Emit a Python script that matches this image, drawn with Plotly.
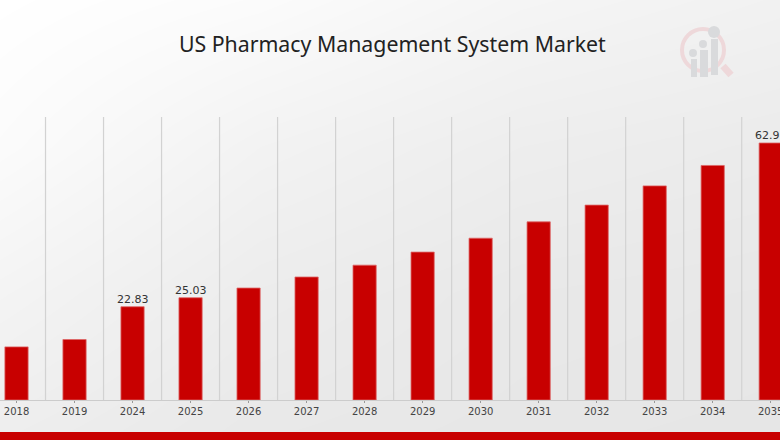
import plotly.graph_objects as go

# Market size by year (only three are labelled in the picture)
years = ['2018', '2019', '2024', '2025', '2026', '2027', '2028', '2029', '2030', '2031', '2032', '2033', '2034', '2035']
market_size = [13.0, 14.8, 22.83, 25.03, 27.4, 30.1, 33.0, 36.2, 39.6, 43.6, 47.7, 52.4, 57.4, 62.9]
shown_labels = ['', '', '22.83', '25.03', '', '', '', '', '', '', '', '', '', '62.9']

# Light grey backdrop, brighter towards the top left corner
backdrop = [
    [1.00, 0.85, 0.60, 0.45],
    [0.85, 0.50, 0.30, 0.20],
    [0.55, 0.25, 0.10, 0.05],
    [0.30, 0.10, 0.03, 0.00],
]
backdrop_scale = [[0, '#e6e6e6'], [1, '#ffffff']]

WIDTH = 780
HEIGHT = 440
Y_MAX = 69.26
RED = '#c80000'
LOGO_PINK = '#eed8da'
LOGO_GREY = '#d9dadc'


def px_x(x):
    return x / WIDTH


def px_y(y):
    return 1 - y / HEIGHT


def add_rect(fig, x0, y0, x1, y1, color):
    fig.add_shape(type='rect', xref='paper', yref='paper', x0=px_x(x0), x1=px_x(x1), y0=px_y(y0), y1=px_y(y1),
                  fillcolor=color, line_width=0)


def add_dot(fig, cx, cy, r, color):
    fig.add_shape(type='circle', xref='paper', yref='paper', x0=px_x(cx - r), x1=px_x(cx + r),
                  y0=px_y(cy - r), y1=px_y(cy + r), fillcolor=color, line_width=0)


fig = go.Figure()

# The backdrop sits on the first axes so the bars on the second pair draw over it
fig.add_trace(go.Heatmap(
    z=backdrop[::-1],
    colorscale=backdrop_scale,
    showscale=False,
    zsmooth='best',
    hoverinfo='skip',
))

fig.add_trace(go.Bar(
    x=years,
    y=market_size,
    xaxis='x2',
    yaxis='y2',
    width=0.4,
    marker=dict(color=RED, line=dict(color='#dd6666', width=0.8)),
))

fig.update_layout(
    width=WIDTH,
    height=HEIGHT,
    margin=dict(l=0, r=0, t=0, b=0),
    paper_bgcolor='#ebebeb',
    plot_bgcolor='rgba(0,0,0,0)',
    showlegend=False,
    title=dict(
        text='US Pharmacy Management System Market',
        x=0.503,
        xanchor='center',
        y=0.899,
        yanchor='middle',
        font=dict(family='Noto Sans', size=21.3, color='#222222'),
    ),
    xaxis=dict(domain=[0, 1], range=[0, 3], visible=False, fixedrange=True, automargin=False),
    yaxis=dict(domain=[0, 1], range=[0, 3], visible=False, fixedrange=True, automargin=False),
    xaxis2=dict(
        domain=[0, 1],
        anchor='y2',
        type='category',
        categoryorder='array',
        categoryarray=years,
        range=[-0.2845, 13.16],
        automargin=False,
        showgrid=False,
        showline=True,
        linecolor='#cccccc',
        linewidth=1,
        ticks='outside',
        ticklen=2,
        tickcolor='#999999',
        tickfont=dict(family='DejaVu Sans', size=10, color='#444444'),
        fixedrange=True,
    ),
    yaxis2=dict(
        domain=[40 / HEIGHT, 323 / HEIGHT],
        anchor='x2',
        range=[0, Y_MAX],
        automargin=False,
        visible=False,
        showgrid=False,
        fixedrange=True,
    ),
)

# Value labels sit right on top of their bars; the last one is nudged to stay inside the window.
# x is the category index because a year string here gets read as the number 2024
for i, (value, label) in enumerate(zip(market_size, shown_labels)):
    if label:
        fig.add_annotation(x=i, y=value, xref='x2', yref='y2', text=label, showarrow=False,
                           yanchor='bottom', yshift=-1, xshift=-3 if i == len(years) - 1 else 0,
                           font=dict(family='DejaVu Sans', size=11, color='#333333'))

# Separators between the categories
for i in range(len(years) - 1):
    fig.add_shape(type='line', xref='x2', yref='y2', x0=i + 0.5, x1=i + 0.5, y0=0, y1=Y_MAX,
                  line=dict(color='#d2d2d2', width=1.2), layer='below')

# Bottom strip
add_rect(fig, 0, 432, WIDTH, HEIGHT, RED)

# Faded logo in the top right corner
fig.add_shape(type='circle', xref='paper', yref='paper', x0=px_x(682), x1=px_x(724), y0=px_y(29), y1=px_y(71),
              line=dict(color=LOGO_PINK, width=4))
fig.add_shape(type='line', xref='paper', yref='paper', x0=px_x(723), x1=px_x(731), y0=px_y(66), y1=px_y(75),
              line=dict(color=LOGO_PINK, width=7))
add_dot(fig, 714, 32, 6, LOGO_GREY)
add_dot(fig, 703, 44, 4, LOGO_GREY)
add_dot(fig, 693, 53, 4, LOGO_GREY)
add_rect(fig, 691, 59, 697, 77, LOGO_GREY)
add_rect(fig, 700, 50, 708, 77, LOGO_GREY)
add_rect(fig, 711, 39, 718, 75, LOGO_GREY)

# Drop the default page margin so the figure fills the window
fig.write_html('out.html', config=dict(displayModeBar=False), post_script="document.body.style.margin = '0';")
